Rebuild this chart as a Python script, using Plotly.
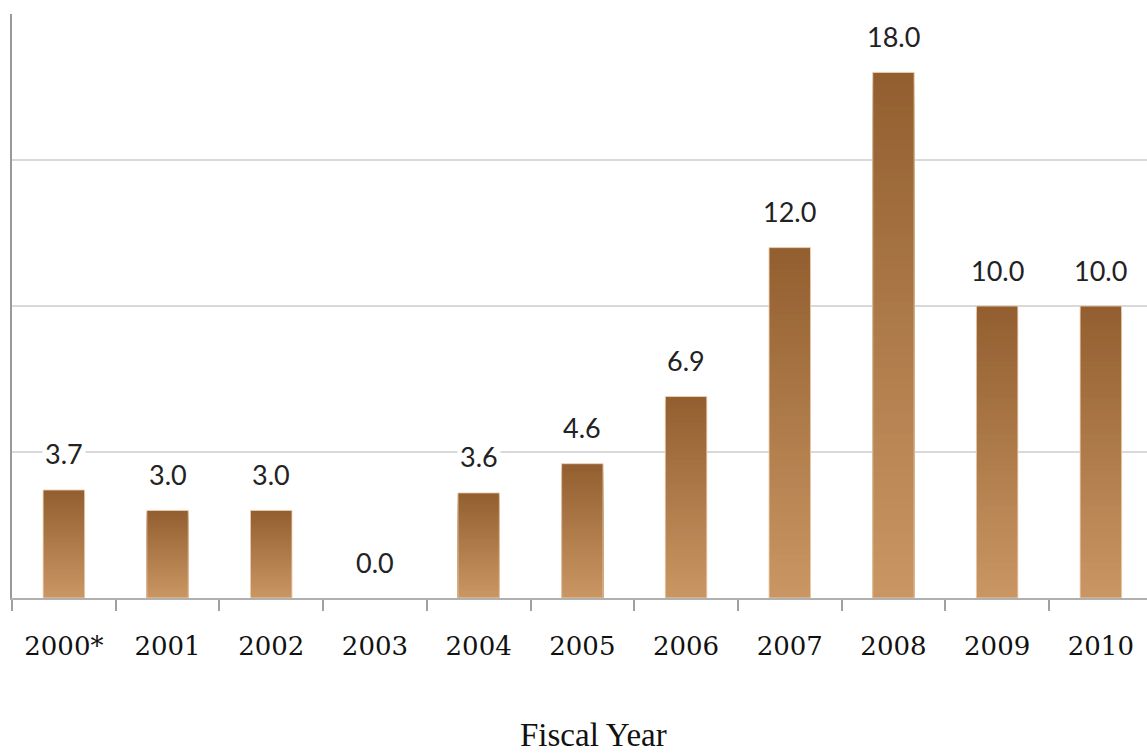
import plotly.graph_objects as go

categories = ["2000*", "2001", "2002", "2003", "2004", "2005", "2006", "2007", "2008", "2009", "2010"]
values = [3.7, 3.0, 3.0, 0.0, 3.6, 4.6, 6.9, 12.0, 18.0, 10.0, 10.0]
labels = ["3.7", "3.0", "3.0", "0.0", "3.6", "4.6", "6.9", "12.0", "18.0", "10.0", "10.0"]

top_rgb = (147, 95, 48)
bottom_rgb = (201, 150, 99)
N = 48

fig = go.Figure()
# gradient: draw full bars in top colour, then progressively shorter bars in lighter colours
for k in range(N):
    frac = (N - k) / N
    t = k / (N - 1)
    c = tuple(round(top_rgb[i] + (bottom_rgb[i] - top_rgb[i]) * t) for i in range(3))
    fig.add_trace(go.Bar(
        x=categories, y=[v * frac if v > 0 else None for v in values], width=0.4,
        marker=dict(color="rgb(%d,%d,%d)" % c, line=dict(width=0)),
        hoverinfo="skip", showlegend=False))
# light outline
fig.add_trace(go.Bar(
    x=categories, y=[v if v > 0 else None for v in values], width=0.4,
    marker=dict(color="rgba(0,0,0,0)", line=dict(width=1, color="rgba(235,210,180,0.9)")),
    showlegend=False))

for i, (v, lab) in enumerate(zip(values, labels)):
    fig.add_annotation(x=i, y=v, text=lab, showarrow=False, yshift=36,
                       yanchor="middle", bgcolor="white", borderpad=2,
                       font=dict(family="Lato", size=27, color="#222222"))

fig.add_annotation(x=0.5125, y=-0.2346, xref="paper", yref="paper", text="Fiscal Year",
                   showarrow=False, xanchor="center", yanchor="middle",
                   font=dict(family="Liberation Serif", size=33, color="#111111"))

fig.update_layout(
    width=1147, height=754, barmode="overlay",
    margin=dict(l=12, r=0, t=14, b=156),
    plot_bgcolor="white", paper_bgcolor="white",
    xaxis=dict(type="category", range=[-0.5, 10.445], showline=True, linecolor="#b0b0b0",
               linewidth=2, ticks="outside", tickson="boundaries", ticklen=11,
               tickwidth=2, tickcolor="#a0a0a0", showgrid=False, ticklabelstandoff=24,
               tickfont=dict(family="DejaVu Serif", size=26, color="#111111")),
    yaxis=dict(range=[0, 20], showticklabels=False, showline=True, linecolor="#999999",
               linewidth=2, tickvals=[0, 5, 10, 15, 20], showgrid=True,
               gridcolor="#d9d9d9", gridwidth=2, zeroline=False, ticks=""),
)

fig.write_html("out.html")
